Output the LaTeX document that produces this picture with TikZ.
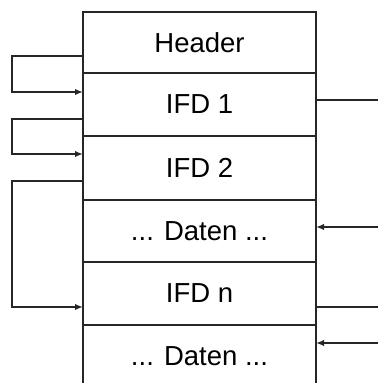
\documentclass[tikz,border=0pt]{standalone}
\usepackage{fontspec}
\setmainfont{Liberation Sans}
\usetikzlibrary{arrows.meta}
\begin{document}
\begin{tikzpicture}[x=1pt,y=-1pt,
  line/.style={line width=1.6pt,line join=miter,draw=black!85},
  tip/.style={-{Latex[length=8pt,width=6.5pt]}},
  lbl/.style={font=\fontsize{27.5}{30}\selectfont,inner sep=0pt,anchor=center}]
\useasboundingbox (0,0) rectangle (378,383);
% labels
\node[lbl] (header) at (199.5,42.5) {Header};
\node[lbl] (ifd1) at (199.5,104.5) {IFD 1};
\node[lbl] (ifd2) at (199.5,168) {IFD 2};
\node[lbl] (daten1) at (199.5,231) {... Daten ...};
\node[lbl] (ifdn) at (199.5,293) {IFD n};
\node[lbl] (daten2) at (199.5,356) {... Daten ...};
% box outline
\coordinate (tl) at (83,12);
\coordinate (tr) at (316,12);
\coordinate (bl) at (83,383);
\coordinate (br) at (316,383);
\draw[line] (bl) -- (tl) -- (tr) -- (br);
\draw[line] (83,73) -- (316,73);
\draw[line] (83,136) -- (316,136);
\draw[line] (83,200) -- (316,200);
\draw[line,line width=2.4pt] (83,262) -- (316,262);
\draw[line] (83,325) -- (316,325);
% left loops
\coordinate (a1) at (83,56);
\coordinate (a1e) at (83,92);
\coordinate (a2) at (83,119);
\coordinate (a2e) at (83,154);
\coordinate (a3) at (83,181);
\coordinate (a3e) at (83,307);
\draw[line,tip] (a1) -- (12,56) -- (12,92) -- (a1e);
\draw[line,tip] (a2) -- (12,119) -- (12,154) -- (a2e);
\draw[line,tip] (a3) -- (12,181) -- (12,307) -- (a3e);
% right side
\coordinate (r1) at (316,100);
\coordinate (r1e) at (378,100);
\coordinate (r2) at (378,227);
\coordinate (r2e) at (316,227);
\coordinate (r3) at (316,307);
\coordinate (r3e) at (378,307);
\coordinate (r4) at (378,343);
\coordinate (r4e) at (316,343);
\draw[line] (r1) -- (r1e);
\draw[line,tip] (r2) -- (r2e);
\draw[line] (r3) -- (r3e);
\draw[line,tip] (r4) -- (r4e);
\end{tikzpicture}
\end{document}
